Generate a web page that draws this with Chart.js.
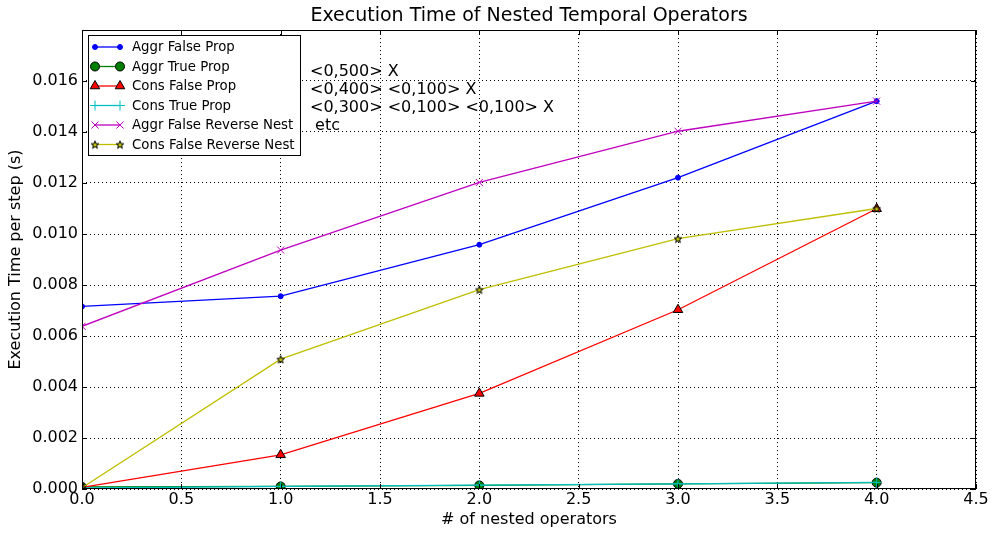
<!DOCTYPE html>
<html>
<head>
<meta charset="utf-8">
<script src="https://cdn.jsdelivr.net/npm/chart.js@4"></script>
<style>
  html, body { margin: 0; padding: 0; background: #fff; }
  #wrap { width: 992px; height: 533px; }
</style>
</head>
<body>
<div id="wrap"><canvas id="chart" width="992" height="533"></canvas></div>
<script>
const xValues = [0, 1, 2, 3, 4];
const seriesNames = ["Aggr False Prop", "Aggr True Prop", "Cons False Prop", "Cons True Prop", "Aggr False Reverse Nest", "Cons False Reverse Nest"];
const aggrFalseProp = [0.00716, 0.00756, 0.00958, 0.01221, 0.01521];
const aggrTrueProp = [0.00008, 0.0001, 0.00014, 0.0002, 0.00025];
const consFalseProp = [0.00006, 0.00134, 0.00375, 0.00703, 0.01099];
const consTrueProp = [0.00004, 0.0001, 0.00015, 0.0002, 0.00026];
const aggrFalseRevNest = [0.00638, 0.00937, 0.01202, 0.01403, 0.01521];
const consFalseRevNest = [0.00005, 0.00509, 0.00782, 0.00982, 0.01100];
const noteLines = ["<0,500> X", "<0,400> <0,100> X", "<0,300> <0,100> <0,100> X", " etc"];

const FONT = "'DejaVu Sans', sans-serif";

// five point star marker (yellow, black edge)
function makeStar(size) {
  const c = document.createElement("canvas");
  c.width = size; c.height = size;
  const g = c.getContext("2d");
  const cx = size / 2, cy = size / 2 + 0.5, R = size / 2 - 1, r = R * 0.42;
  g.beginPath();
  for (let k = 0; k < 10; k++) {
    const ang = -Math.PI / 2 + k * Math.PI / 5;
    const rr = k % 2 ? r : R;
    g.lineTo(cx + rr * Math.cos(ang), cy + rr * Math.sin(ang));
  }
  g.closePath();
  g.fillStyle = "#bfbf00";
  g.fill();
  g.strokeStyle = "#000";
  g.lineWidth = 1;
  g.stroke();
  return c;
}
const starImg = makeStar(10);

const styles = [
  { color: "#0000ff", point: "circle", radius: 2.5, fill: "#0000ff", edge: "#0000ff" },
  { color: "#008000", point: "circle", radius: 4.5, fill: "#008000", edge: "#000000" },
  { color: "#ff0000", point: "triangle", radius: 5.5, fill: "#ff0000", edge: "#000000" },
  { color: "#00bfbf", point: "cross", radius: 5, fill: "#00bfbf", edge: "#00bfbf" },
  { color: "#bf00bf", point: "crossRot", radius: 5, fill: "#bf00bf", edge: "#bf00bf" },
  { color: "#bfbf00", point: starImg, radius: 5, fill: "#bfbf00", edge: "#000000" }
];
const allSeries = [aggrFalseProp, aggrTrueProp, consFalseProp, consTrueProp, aggrFalseRevNest, consFalseRevNest];

const datasets = allSeries.map((vals, i) => ({
  label: seriesNames[i],
  data: vals.map((v, j) => ({ x: xValues[j], y: v })),
  borderColor: styles[i].color,
  backgroundColor: styles[i].fill,
  borderWidth: 1.3,
  pointStyle: styles[i].point,
  pointRadius: styles[i].radius,
  pointBorderColor: styles[i].edge,
  pointBackgroundColor: styles[i].fill,
  pointBorderWidth: 1,
  tension: 0,
  order: 6 - i
}));

// title, inward ticks, legend box and note text
const extras = {
  id: "extras",
  afterDatasetsDraw(chart) {
    const ctx = chart.ctx;
    const a = chart.chartArea;
    const xs = chart.scales.x, ys = chart.scales.y;
    ctx.save();
    ctx.strokeStyle = "#000";
    ctx.lineWidth = 1;
    ctx.beginPath();
    xs.ticks.forEach(t => {
      const px = Math.round(xs.getPixelForValue(t.value)) + 0.5;
      ctx.moveTo(px, a.bottom); ctx.lineTo(px, a.bottom - 5);
      ctx.moveTo(px, a.top); ctx.lineTo(px, a.top + 5);
    });
    ys.ticks.forEach(t => {
      const py = Math.round(ys.getPixelForValue(t.value)) + 0.5;
      ctx.moveTo(a.left, py); ctx.lineTo(a.left + 5, py);
      ctx.moveTo(a.right, py); ctx.lineTo(a.right - 5, py);
    });
    ctx.stroke();
    ctx.strokeRect(a.left + 0.5, a.top + 0.5, a.right - a.left - 1, a.bottom - a.top - 1);

    // legend
    const bx = 88, by = 35, bw = 212, bh = 120;
    ctx.fillStyle = "#fff";
    ctx.fillRect(bx, by, bw, bh);
    ctx.strokeRect(bx + 0.5, by + 0.5, bw, bh);
    ctx.font = "13.3px " + FONT;
    ctx.textBaseline = "middle";
    chart.data.datasets.forEach((ds, i) => {
      const y = by + 12 + i * 19.5;
      ctx.strokeStyle = ds.borderColor;
      ctx.lineWidth = 1.3;
      ctx.beginPath(); ctx.moveTo(95, y); ctx.lineTo(120, y); ctx.stroke();
      [95, 120].forEach(px => {
        ctx.fillStyle = ds.pointBackgroundColor;
        ctx.strokeStyle = ds.pointBorderColor;
        ctx.lineWidth = 1;
        Chart.helpers.drawPoint(ctx, { pointStyle: ds.pointStyle, radius: ds.pointRadius, borderWidth: 1, rotation: 0 }, px, y);
      });
      ctx.fillStyle = "#000";
      ctx.textAlign = "left";
      ctx.fillText(ds.label, 132, y + 1);
    });

    // note
    ctx.font = "16px " + FONT;
    noteLines.forEach((s, i) => ctx.fillText(s, 310, 72 + i * 18));

    // title
    ctx.font = "19px " + FONT;
    ctx.textAlign = "center";
    ctx.fillText("Execution Time of Nested Temporal Operators", (a.left + a.right) / 2, 16);
    ctx.restore();
  }
};

new Chart(document.getElementById("chart"), {
  type: "line",
  data: { datasets },
  options: {
    responsive: false,
    animation: false,
    layout: { padding: { top: 30, right: 16, left: 0, bottom: 0 } },
    plugins: { legend: { display: false }, tooltip: { enabled: false }, title: { display: false } },
    scales: {
      x: {
        type: "linear",
        min: 0, max: 4.5,
        afterFit: s => { s.height = 44; s.paddingLeft = 0; s.paddingRight = 0; },
        ticks: { stepSize: 0.5, color: "#000", font: { family: FONT, size: 16 }, padding: 1, maxRotation: 0,
                 callback: v => v.toFixed(1) },
        grid: { color: "#000", lineWidth: 1, drawTicks: false },
        border: { display: false, dash: [1, 3] },
        title: { display: true, text: "# of nested operators", color: "#000", font: { family: FONT, size: 16 }, padding: { top: 0 } }
      },
      y: {
        min: 0, max: 0.018,
        afterFit: s => { s.width = 82; },
        ticks: { stepSize: 0.002, color: "#000", font: { family: FONT, size: 16 }, padding: 4,
                 callback: v => (Math.abs(v - 0.018) < 1e-9 ? "" : v.toFixed(3)) },
        grid: { color: "#000", lineWidth: 1, drawTicks: false },
        border: { display: false, dash: [1, 3] },
        title: { display: true, text: "Execution Time per step (s)", color: "#000", font: { family: FONT, size: 16 }, padding: { top: 6, bottom: 0 } }
      }
    }
  },
  plugins: [extras]
});
</script>
</body>
</html>
